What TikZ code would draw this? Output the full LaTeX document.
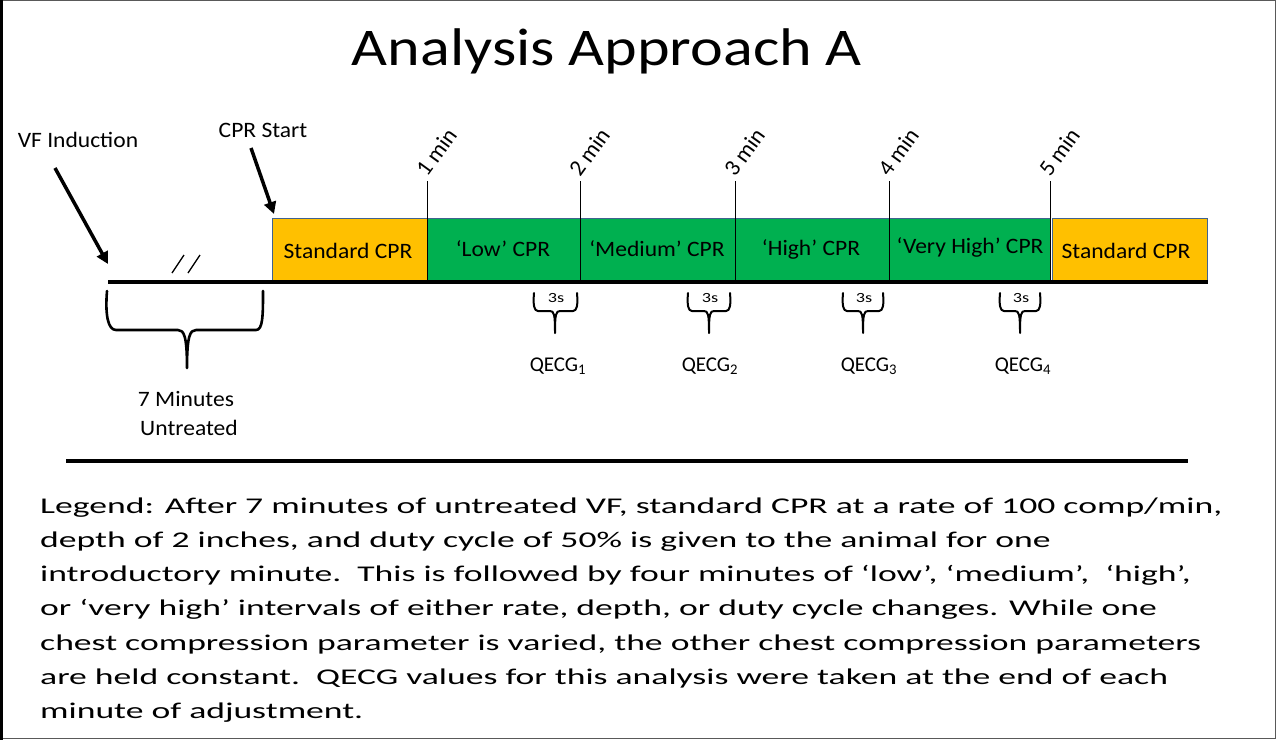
\documentclass[tikz,border=0pt]{standalone}
\usepackage{fontspec}
\usepackage{graphicx}
\setmainfont{Carlito}
\usetikzlibrary{arrows.meta,calc}
\definecolor{cprorange}{HTML}{FFC000}
\definecolor{cprgreen}{HTML}{00B050}
\definecolor{boxedge}{HTML}{41628F}
\newlength{\legw}
\newcommand{\legfont}{\fontsize{22.5}{27}\selectfont}
\newcommand{\legfirst}{Legend: After 7 minutes of untreated VF, standard CPR at a rate of 100 comp/min,}
\newcommand{\legline}[1]{\legfont\settowidth{\legw}{\legfirst}\pgfmathsetmacro{\legsx}{1182/\legw}\scalebox{\legsx}[1]{#1}}
\newcommand{\wlbl}[1]{\scalebox{1.07}[1]{#1}}
\tikzset{
  lbl/.style={font=\fontsize{22}{26}\selectfont, inner sep=0pt},
  minlbl/.style={font=\fontsize{23}{27}\selectfont, inner sep=0pt, rotate=54, anchor=base west},
  tick/.style={line width=0.8pt, black},
  bigarrow/.style={line width=3.5pt, -{Triangle[length=12pt,width=12pt]}},
  bracestyle/.style={line width=2.6pt, line join=round, line cap=round},
  smallbrace/.style={line width=2pt, line join=round, line cap=round},
  legend/.style={inner sep=0pt, anchor=base west},
  orangebox/.style={fill=cprorange, draw=boxedge, line width=0.8pt},
  greenbox/.style={fill=cprgreen, draw=boxedge, line width=0.8pt},
}
\begin{document}
\begin{tikzpicture}[x=1pt,y=-1pt]
\useasboundingbox (0,0) rectangle (1276,740);
% frame
\draw[gray!70!black, line width=1pt] (0.5,0.8) rectangle (1275.3,738.5);
\draw[black, line width=3pt] (1.5,0) -- (1.5,740);

% title
\node[inner sep=0pt, anchor=base] (title) at (607,65) {\resizebox{510pt}{\height}{\fontsize{53}{60}\selectfont Analysis Approach A}};

% top labels and arrows
\node[lbl] (vf) at (78,140) {\wlbl{VF Induction}};
\node[lbl] (cprs) at (263,130) {\wlbl{CPR Start}};
\coordinate (vfs) at (55,168);
\coordinate (vfe) at (108,264);
\coordinate (cps) at (251,148);
\coordinate (cpe) at (274,214);
\draw[bigarrow] (vfs) -- (vfe);
\draw[bigarrow] (cps) -- (cpe);

% boxes
\node[orangebox, minimum width=155pt, minimum height=62pt, anchor=south west, inner sep=0pt] (std1) at (272,281) {};
\node[greenbox, minimum width=623pt, minimum height=62pt, anchor=south west, inner sep=0pt] (grn) at (427,281) {};
\node[orangebox, minimum width=155pt, minimum height=62pt, anchor=south west, inner sep=0pt] (std2) at (1052,281) {};

\node[lbl] (l1) at (348,251) {\wlbl{Standard CPR}};
\node[lbl] (l2) at (503,249) {\wlbl{‘Low’ CPR}};
\node[lbl] (l3) at (657,249) {\wlbl{‘Medium’ CPR}};
\node[lbl] (l4) at (811,249) {\wlbl{‘High’ CPR}};
\node[lbl] (l5) at (970,247) {\wlbl{‘Very High’ CPR}};
\node[lbl] (l6) at (1126,251) {\wlbl{Standard CPR}};

% ticks
\foreach \x/\t in {427/1, 580/2, 735/3, 889/4, 1050/5}{
  \coordinate (tk\t) at (\x,181);
  \draw[tick] (tk\t) -- (\x,281);
  \node[minlbl] (m\t) at ($(tk\t)+(0,-3)$) {\t\ min};
}

% timeline
\coordinate (tl0) at (108,282);
\coordinate (tl1) at (1208,282);
\draw[line width=4pt] (tl0) -- (tl1);

% break marks
\draw[line width=1.3pt] (172,273) -- (184,255);
\draw[line width=1.3pt] (188,273) -- (200,255);

% big brace
\draw[bracestyle] (107,291) .. controls (105,315) and (108,330) .. (116,330)
  -- (178,330) .. controls (184,330) and (187,336) .. (187,368)
  .. controls (187,336) and (190,330) .. (196,330)
  -- (256,330) .. controls (263,330) and (263,315) .. (263,291);
\node[lbl] (untr1) at (186,399) {\wlbl{7 Minutes}};
\node[lbl] (untr2) at (189,428) {\wlbl{Untreated}};

% small braces
\foreach \a/\b/\m/\q/\i in {534/577/555/558/1, 688/730/709/710/2, 843/883/863/869/3, 1000/1040/1020/1023/4}{
  \draw[smallbrace] (\a,293) .. controls (\a-1,305) and (\a,311) .. (\a+4,311)
    -- (\m-5,311) .. controls (\m-1,311) and (\m,314) .. (\m,333)
    .. controls (\m,314) and (\m+1,311) .. (\m+5,311)
    -- (\b-4,311) .. controls (\b,311) and (\b+1,305) .. (\b,293);
  \node[font=\fontsize{14}{16}\selectfont, inner sep=0pt] (s\i) at (\m+1,298) {\scalebox{1.3}[1]{3s}};
  \node[font=\fontsize{21}{24}\selectfont, inner sep=0pt] (q\i) at (\q,366) {QECG\textsubscript{\i}};
}

% separator
\coordinate (sep0) at (66,461);
\coordinate (sep1) at (1188,461);
\draw[line width=3.5pt] (sep0) -- (sep1);

% legend
\node[legend] (g1) at (40,513.3) {\legline{\legfirst}};
\node[legend] (g2) at (40,547.5) {\legline{depth of 2 inches, and duty cycle of 50\% is given to the animal for one}};
\node[legend] (g3) at (40,581.7) {\legline{introductory minute.\ \ This is followed by four minutes of ‘low’, ‘medium’,\ \ ‘high’,}};
\node[legend] (g4) at (40,615.9) {\legline{or ‘very high’ intervals of either rate, depth, or duty cycle changes. While one}};
\node[legend] (g5) at (40,650.1) {\legline{chest compression parameter is varied, the other chest compression parameters}};
\node[legend] (g6) at (40,684.3) {\legline{are held constant.\ \ QECG values for this analysis were taken at the end of each}};
\node[legend] (g7) at (40,718.5) {\legline{minute of adjustment.}};
\end{tikzpicture}
\end{document}
